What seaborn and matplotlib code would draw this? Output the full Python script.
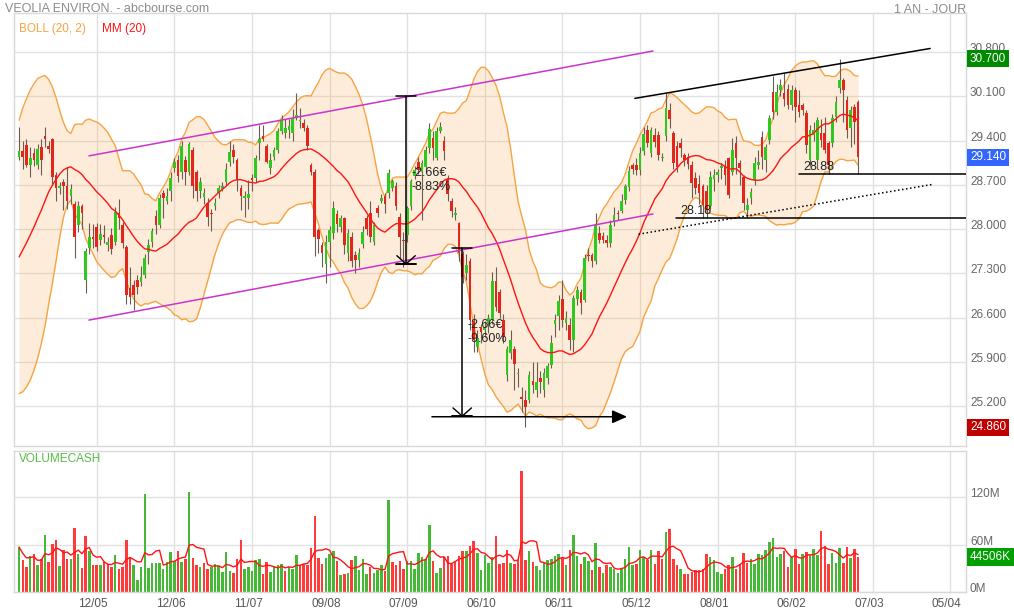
import numpy as np
import pandas as pd
import seaborn as sns
import matplotlib.pyplot as plt
from matplotlib.transforms import blended_transform_factory, offset_copy

sns.set_style("white")
plt.rcParams['font.family'] = ['Liberation Sans', 'DejaVu Sans']

# daily sessions, oldest first
opens = [
    29.15, 29.24, 29.33, 29.02, 29.20, 29.02, 29.30, 29.48, 29.32, 29.42,
    28.86, 28.65, 28.75, 28.69, 28.52, 28.40, 28.07, 28.36, 27.20, 27.70,
    27.88, 28.04, 27.83, 27.91, 27.75, 27.91, 27.80, 28.25, 28.07, 27.71,
    27.07, 27.12, 27.20, 27.16, 27.28, 27.64, 27.80, 28.21, 28.07, 28.57,
    28.45, 28.60, 28.97, 29.10, 28.90, 29.10, 28.90, 29.26, 28.90, 28.60,
    28.51, 28.41, 28.26, 28.36, 28.57, 28.64, 28.75, 29.06, 29.26, 29.09,
    28.65, 28.49, 28.50, 28.81, 28.81, 29.36, 29.48, 29.31, 28.97, 29.15,
    29.25, 29.56, 29.52, 29.57, 29.52, 29.76, 29.71, 29.68, 29.60, 29.02,
    28.90, 27.98, 27.75, 27.45, 27.80, 27.94, 28.24, 28.04, 28.17, 27.62,
    27.88, 27.59, 27.51, 27.77, 28.17, 28.26, 27.80, 28.33, 28.45, 28.52,
    28.57, 28.65, 28.68, 28.20, 27.83, 27.90, 28.36, 28.84, 29.07, 28.90,
    28.99, 29.28, 29.45, 29.13, 29.56, 29.40, 28.80, 28.45, 28.22, 28.10,
    27.60, 27.30, 27.50, 26.55, 26.14, 26.45, 26.40, 26.52, 26.57, 27.18,
    27.00, 26.56, 25.69, 26.04, 26.10, 25.70, 25.35, 25.30, 25.30, 25.60,
    25.45, 25.65, 25.45, 25.65, 25.85, 26.50, 26.62, 26.90, 26.52, 26.48,
    26.24, 26.90, 27.00, 26.88, 27.59, 27.59, 27.49, 27.94, 27.89, 27.83,
    27.78, 28.12, 28.26, 28.29, 28.46, 28.67, 29.02, 29.02, 28.94, 29.23,
    29.57, 29.20, 29.49, 29.49, 29.13, 29.47, 29.89, 29.52, 29.31, 29.37,
    29.17, 29.14, 29.02, 28.81, 28.72, 28.68, 28.60, 28.36, 28.79, 28.86,
    28.97, 29.00, 29.12, 28.90, 29.36, 29.04, 28.82, 28.30, 28.50, 28.78,
    29.01, 29.46, 29.09, 29.41, 30.17, 29.85, 30.20, 30.15, 30.22, 29.96,
    30.20, 29.96, 29.96, 29.84, 29.09, 29.49, 29.09, 29.52, 29.52, 29.36,
    29.36, 29.78, 30.23, 30.36, 30.04, 29.60, 29.94, 30.02,
]
highs = [
    29.62, 29.40, 29.42, 29.30, 29.28, 29.35, 29.42, 29.62, 29.40, 29.45,
    28.90, 28.75, 28.80, 28.98, 28.72, 28.45, 28.45, 28.40, 27.70, 28.10,
    28.08, 28.10, 28.08, 28.06, 27.88, 28.02, 28.35, 28.47, 28.12, 27.75,
    27.40, 27.20, 27.28, 27.42, 27.60, 27.85, 28.02, 28.30, 28.55, 28.62,
    28.65, 28.90, 29.12, 29.18, 29.40, 29.16, 29.38, 29.30, 28.94, 28.82,
    28.65, 28.50, 28.32, 28.50, 28.70, 28.74, 29.05, 29.40, 29.34, 29.12,
    28.70, 28.60, 28.78, 28.88, 29.18, 29.65, 29.65, 29.35, 29.20, 29.30,
    29.60, 29.80, 29.75, 29.75, 29.90, 30.16, 29.92, 29.75, 29.65, 29.05,
    28.95, 28.02, 27.80, 27.90, 28.05, 28.45, 28.30, 28.22, 28.20, 28.00,
    27.95, 27.65, 27.70, 28.05, 28.22, 28.44, 28.12, 28.38, 28.55, 28.57,
    28.95, 28.80, 28.75, 28.25, 27.95, 28.36, 28.80, 29.00, 29.15, 29.10,
    29.32, 29.68, 29.55, 29.62, 29.70, 29.48, 28.85, 28.50, 28.35, 28.12,
    27.65, 27.60, 27.55, 26.65, 26.40, 26.50, 26.55, 26.65, 27.32, 27.40,
    27.05, 26.65, 26.15, 26.40, 26.15, 25.80, 25.50, 25.45, 25.75, 25.90,
    25.90, 25.75, 25.80, 25.88, 26.32, 26.65, 26.95, 27.20, 26.70, 26.60,
    26.95, 27.10, 27.05, 27.60, 27.70, 27.62, 28.25, 28.05, 27.95, 27.90,
    28.15, 28.35, 28.30, 28.55, 28.72, 29.00, 29.05, 29.12, 29.30, 29.62,
    29.65, 29.62, 29.60, 29.55, 29.20, 30.15, 30.00, 29.55, 29.40, 29.45,
    29.20, 29.20, 29.08, 28.90, 28.85, 28.72, 28.70, 28.92, 28.95, 28.95,
    29.05, 29.10, 29.15, 29.45, 29.48, 29.10, 28.85, 28.50, 28.65, 29.15,
    29.25, 29.55, 29.35, 29.80, 30.42, 30.30, 30.38, 30.47, 30.30, 30.28,
    30.25, 30.20, 30.00, 29.88, 29.65, 29.70, 29.78, 29.75, 29.78, 29.40,
    29.82, 30.10, 30.70, 30.40, 30.10, 29.95, 29.98, 30.05,
]
lows = [
    29.10, 28.95, 28.98, 28.83, 29.00, 28.95, 28.85, 29.30, 29.20, 28.70,
    28.45, 28.55, 28.30, 28.32, 28.40, 27.55, 27.95, 28.00, 26.99, 27.60,
    27.70, 27.65, 27.75, 27.78, 27.65, 27.60, 27.75, 28.00, 27.70, 26.82,
    26.82, 26.72, 26.98, 27.10, 27.22, 27.45, 27.72, 27.92, 28.02, 28.18,
    28.40, 28.45, 28.90, 28.75, 28.80, 28.70, 28.85, 28.50, 28.45, 28.50,
    28.40, 28.05, 27.97, 28.30, 28.50, 28.60, 28.70, 29.00, 29.05, 28.60,
    28.30, 28.20, 28.32, 28.60, 28.75, 29.10, 29.40, 29.05, 28.88, 29.10,
    29.20, 29.50, 29.45, 29.45, 29.40, 29.72, 29.60, 29.55, 29.25, 28.85,
    27.57, 27.62, 27.40, 27.15, 27.40, 27.85, 27.95, 27.95, 27.60, 27.50,
    27.40, 27.30, 27.40, 27.70, 27.90, 27.80, 27.75, 28.20, 28.42, 28.25,
    28.50, 28.60, 28.30, 27.55, 27.40, 27.80, 28.30, 28.80, 28.88, 28.15,
    28.90, 29.20, 29.10, 29.10, 29.52, 29.10, 28.45, 28.20, 28.15, 27.50,
    27.15, 27.20, 26.40, 26.05, 26.05, 26.20, 26.30, 26.35, 26.50, 26.70,
    26.60, 26.20, 25.60, 25.95, 25.45, 25.50, 25.10, 24.86, 25.25, 25.40,
    25.35, 25.40, 25.35, 25.55, 25.80, 26.30, 26.40, 26.45, 26.40, 26.08,
    26.05, 26.80, 26.65, 26.85, 27.50, 27.40, 27.45, 27.78, 27.78, 27.72,
    27.72, 28.05, 28.15, 28.25, 28.40, 28.60, 28.88, 28.86, 28.85, 29.18,
    29.30, 29.15, 29.30, 29.10, 29.08, 29.40, 29.60, 28.95, 28.90, 29.15,
    29.00, 28.95, 28.50, 28.55, 28.40, 28.18, 28.18, 28.30, 28.60, 28.75,
    28.80, 28.70, 28.50, 28.85, 28.88, 28.70, 28.30, 28.18, 28.40, 28.70,
    28.95, 28.95, 28.90, 29.35, 29.75, 29.80, 30.10, 29.95, 29.90, 29.88,
    29.70, 29.78, 29.80, 29.20, 29.00, 29.40, 28.95, 29.30, 29.20, 28.88,
    29.30, 29.70, 30.15, 29.70, 29.45, 29.30, 29.35, 28.88,
]
closes = [
    29.24, 29.15, 29.02, 29.12, 29.10, 29.27, 29.10, 29.42, 29.27, 28.83,
    28.65, 28.69, 28.68, 28.45, 28.64, 27.87, 28.36, 28.26, 27.65, 27.87,
    27.84, 27.71, 27.93, 27.87, 27.79, 27.68, 28.27, 28.17, 27.78, 26.96,
    26.93, 26.96, 27.08, 27.24, 27.54, 27.75, 27.97, 28.06, 28.49, 28.49,
    28.53, 28.81, 29.07, 28.84, 29.31, 28.90, 29.34, 28.68, 28.60, 28.74,
    28.57, 28.19, 28.24, 28.41, 28.65, 28.69, 28.95, 29.22, 29.14, 28.78,
    28.52, 28.53, 28.55, 28.78, 29.12, 29.43, 29.42, 29.07, 29.10, 29.26,
    29.56, 29.72, 29.60, 29.64, 29.75, 29.80, 29.73, 29.60, 29.31, 28.90,
    27.88, 27.84, 27.62, 27.80, 27.98, 28.33, 28.08, 28.17, 27.75, 27.94,
    27.49, 27.51, 27.63, 27.95, 28.00, 27.87, 28.07, 28.26, 28.49, 28.40,
    28.89, 28.76, 28.36, 27.88, 27.82, 28.33, 28.77, 28.94, 28.94, 29.05,
    29.26, 29.58, 29.28, 29.55, 29.61, 29.23, 28.55, 28.28, 28.25, 27.62,
    27.25, 27.43, 26.56, 26.24, 26.28, 26.37, 26.45, 26.59, 27.18, 26.77,
    26.67, 26.29, 26.10, 26.24, 25.86, 25.72, 25.31, 25.18, 25.69, 25.53,
    25.58, 25.58, 25.72, 25.83, 26.20, 26.56, 26.86, 26.56, 26.59, 26.24,
    26.91, 27.04, 26.83, 27.54, 27.57, 27.49, 28.07, 27.83, 27.83, 27.78,
    28.07, 28.22, 28.24, 28.44, 28.68, 28.92, 28.95, 28.94, 29.20, 29.51,
    29.36, 29.57, 29.38, 29.17, 29.15, 29.92, 29.74, 29.05, 28.98, 29.28,
    29.09, 29.03, 28.73, 28.65, 28.57, 28.38, 28.30, 28.83, 28.86, 28.90,
    29.00, 28.85, 28.54, 29.25, 29.13, 28.97, 28.41, 28.38, 28.59, 29.05,
    29.06, 29.14, 29.30, 29.76, 29.85, 30.17, 30.28, 30.06, 29.96, 30.20,
    29.93, 29.85, 29.89, 29.33, 29.57, 29.57, 29.73, 29.41, 29.25, 29.02,
    29.76, 30.01, 30.36, 30.20, 29.57, 29.89, 29.70, 29.14,
]
# traded amount, millions of euros
volumes = [
    57.0, 41.0, 31.7, 45.2, 48.6, 34.6, 42.3, 72.7, 38.0, 61.3,
    65.5, 32.5, 52.8, 41.4, 42.3, 81.5, 47.7, 30.4, 70.6, 52.0,
    33.8, 33.8, 34.6, 38.0, 35.9, 31.7, 47.3, 29.6, 31.7, 66.3,
    44.4, 34.6, 14.8, 31.7, 123.8, 30.8, 36.8, 36.8, 36.8, 29.6,
    38.0, 50.7, 39.3, 51.5, 38.0, 41.8, 126.8, 43.5, 33.8, 31.7,
    37.2, 29.6, 31.7, 35.1, 32.5, 25.4, 50.7, 26.6, 24.5, 41.8,
    65.5, 28.7, 31.7, 26.6, 40.1, 41.4, 23.2, 37.6, 25.4, 32.5,
    33.8, 35.1, 26.6, 31.7, 28.7, 47.3, 34.6, 35.9, 34.6, 56.2,
    95.9, 43.1, 35.9, 42.7, 47.7, 51.5, 39.3, 22.0, 23.2, 24.1,
    40.1, 45.2, 28.3, 42.3, 23.2, 31.7, 24.1, 27.5, 33.8, 26.6,
    117.0, 37.6, 33.8, 38.9, 28.7, 38.9, 38.9, 28.7, 49.9, 44.4,
    42.3, 85.3, 39.3, 24.5, 30.0, 44.4, 45.2, 35.9, 38.0, 45.2,
    51.5, 51.5, 57.9, 64.2, 49.9, 27.5, 46.5, 36.8, 44.4, 70.6,
    35.1, 36.8, 53.7, 37.2, 35.1, 40.1, 154.2, 41.0, 52.0, 38.0,
    32.5, 28.3, 36.8, 40.1, 41.4, 45.2, 48.6, 43.5, 34.6, 53.7,
    71.8, 45.2, 35.9, 44.4, 39.3, 27.5, 62.5, 31.7, 24.5, 34.6,
    31.7, 29.6, 24.1, 28.7, 41.4, 56.6, 33.8, 35.1, 52.8, 44.4,
    41.0, 53.7, 35.9, 51.5, 41.4, 76.1, 80.3, 41.4, 34.6, 29.6,
    23.2, 23.2, 25.4, 28.3, 28.3, 29.6, 47.7, 44.4, 40.1, 25.4,
    22.4, 29.6, 33.8, 44.4, 29.6, 35.1, 49.9, 37.2, 42.3, 35.1,
    48.6, 46.5, 53.7, 63.4, 68.9, 44.4, 48.6, 51.5, 31.7, 44.4,
    54.9, 35.1, 48.6, 50.7, 47.3, 54.9, 46.5, 76.9, 57.9, 35.1,
    49.9, 36.8, 56.2, 37.2, 57.0, 43.5, 54.9, 44.506,
]
# closes of the sessions just before the first candle, they seed the 20 day indicators
prior_closes = [26.9, 26.8, 26.7, 26.6, 26.5, 26.5, 26.45, 26.41, 26.7, 26.8,
                27.0, 27.4, 27.8, 28.3, 28.7, 29.0, 29.2, 29.2, 29.0]

date_labels = ['12/05', '12/06', '11/07', '09/08', '07/09', '06/10',
               '06/11', '05/12', '08/01', '06/02', '07/03', '05/04']

# drawings on the chart: (session index, price) end points
channel_high = [(18.9, 29.16), (171.5, 30.82)]
channel_low = [(18.9, 26.56), (171.5, 28.24)]
top_trend = [(166.6, 30.07), (246.5, 30.86)]
dotted_trend = [(167.6, 27.92), (247.3, 28.71)]
supports = [(211.0, 28.88), (177.8, 28.18)]
drops = [(104.7, 30.11, 27.45), (119.9, 27.70, 25.04)]
drop_base = [(111.7, 25.03), (164.5, 25.03)]

GREEN = '#2fc81e'
RED = '#e3261b'
ORANGE = '#f6a443'
GRID = '#e1e1e1'

n = len(closes)
df = pd.DataFrame({'i': np.arange(n), 'open': opens, 'high': highs, 'low': lows,
                   'close': closes, 'vol': volumes})
full = pd.Series(prior_closes + closes)
k = len(prior_closes)
df['mm'] = full.rolling(20).mean().iloc[k:].to_numpy()
sd = full.rolling(20).std(ddof=0).iloc[k:].to_numpy()
df['up'] = df['mm'] + 2 * sd
df['dn'] = df['mm'] - 2 * sd
df['vol_mm'] = df['vol'].rolling(5, min_periods=1).mean()
prev = np.r_[prior_closes[-1], closes[:-1]]
df['vol_col'] = np.where(df['close'] >= prev, '#45b935', '#ff3a3a')
df['col'] = np.where(df['close'] >= df['open'], GREEN, RED)

fig = plt.figure(figsize=(10.14, 6.14), dpi=100)
ax = fig.add_axes([14 / 1014, 1 - 446 / 614, 952 / 1014, 432.7 / 614])
axv = fig.add_axes([14 / 1014, 1 - 592 / 614, 952 / 1014, 141 / 614])

ticks = np.arange(21, 253, 21)
levels = np.round(np.arange(25.2, 30.81, 0.7), 1)
for a in (ax, axv):
    a.set_xlim(-1.38, 256.2)
    a.set_xticks(ticks)
    a.grid(True, color=GRID, lw=1)
    a.set_axisbelow(True)
    a.tick_params(length=0, labelbottom=False, labelleft=False)
    for s in a.spines.values():
        s.set_color('#d8d8d8')
        s.set_linewidth(1)
ax.set_ylim(24.567, 31.417)
ax.set_yticks(levels)
axv.set_ylim(0, 179)
axv.set_yticks([0, 60, 120])

# bollinger + mm
ax.fill_between(df['i'], df['dn'], df['up'], color=ORANGE, alpha=0.2, lw=0, zorder=1)
sns.lineplot(data=df, x='i', y='up', ax=ax, color=ORANGE, lw=1, zorder=2)
sns.lineplot(data=df, x='i', y='dn', ax=ax, color=ORANGE, lw=1, zorder=2)

# candles
ax.vlines(df['i'], df['low'], df['high'], color='#6a5c50', lw=0.8, zorder=3)
body = (df['close'] - df['open']).abs().clip(lower=0.015)
ax.bar(df['i'], body, bottom=df[['open', 'close']].min(axis=1), width=0.72,
       color=df['col'], lw=0, zorder=3.5)
sns.lineplot(data=df, x='i', y='mm', ax=ax, color='#ff1414', lw=1, zorder=4)

# drawings
for pts, col, ls in [(channel_high, '#cc33cc', '-'), (channel_low, '#cc33cc', '-'),
                     (top_trend, 'black', '-'), (dotted_trend, 'black', ':')]:
    (x0, y0), (x1, y1) = pts
    ax.plot([x0, x1], [y0, y1], color=col, ls=ls, lw=1.1, zorder=5)

for x0, lvl in supports:
    ax.plot([x0, 256.2], [lvl, lvl], color='black', lw=1.1, zorder=5)
    ax.text(x0, lvl, f'{lvl:.2f}', fontsize=9, color='#222222', ha='left', va='bottom',
            transform=offset_copy(ax.transData, fig, x=4, y=1, units='dots'), zorder=6)

for xi, top, bot in drops:
    ax.plot([xi, xi], [top, bot], color='black', lw=1.1, zorder=5)
    ax.plot([xi - 2.7, xi + 2.7], [top, top], color='black', lw=1.1, zorder=5)
    ax.plot([xi - 2.7, xi + 2.7], [bot, bot], color='black', lw=1.4, zorder=5)
    ax.plot([xi - 2.5, xi, xi + 2.5], [bot + 0.13, bot, bot + 0.13], color='black', lw=1, zorder=5)
    diff = top - bot
    ax.text(xi, (top + bot) / 2, f'-{diff:.2f}€\n-{diff / top * 100:.2f}%', fontsize=9,
            color='#222222', ha='left', va='center', linespacing=1.15,
            transform=offset_copy(ax.transData, fig, x=5, y=0, units='dots'), zorder=6)

(bx0, by0), (bx1, by1) = drop_base
ax.annotate('', xy=(bx1, by1), xytext=(bx0, by0), zorder=5,
            arrowprops=dict(arrowstyle='-|>,head_length=0.9,head_width=0.4',
                            color='black', lw=1.1, mutation_scale=10, shrinkA=0, shrinkB=0))

# right price scale
right = blended_transform_factory(ax.transAxes, ax.transData)
for v in levels:
    ax.text(1, v, f'{v:.3f}', fontsize=8.5, color='#666666', ha='left', va='center',
            transform=offset_copy(right, fig, x=4, y=3, units='dots'), clip_on=False)
for v, col in [(max(highs), '#008a00'), (closes[-1], '#3366ff'), (min(lows), '#c00000')]:
    ax.text(1, v, f'{v:.3f}', fontsize=8.5, color='white', ha='left', va='center',
            transform=offset_copy(right, fig, x=4, y=0, units='dots'), clip_on=False, zorder=10,
            bbox=dict(boxstyle='square,pad=0.22', fc=col, ec='none'))

# volume panel
axv.bar(df['i'], df['vol'], width=0.68, color=df['vol_col'], lw=0, zorder=2)
sns.lineplot(data=df, x='i', y='vol_mm', ax=axv, color='#ff1414', lw=1, zorder=3)
rightv = blended_transform_factory(axv.transAxes, axv.transData)
for v in [0, 60, 120]:
    axv.text(1, v, f'{v}M', fontsize=8.5, color='#666666', ha='left', va='center',
             transform=offset_copy(rightv, fig, x=4, y=3, units='dots'), clip_on=False)
axv.text(1, volumes[-1], f'{round(volumes[-1] * 1000)}K', fontsize=8.5, color='white',
         ha='left', va='center', transform=offset_copy(rightv, fig, x=4, y=0, units='dots'),
         clip_on=False, zorder=10, bbox=dict(boxstyle='square,pad=0.22', fc='#00a000', ec='none'))

bottom = blended_transform_factory(axv.transData, axv.transAxes)
for t, lab in zip(ticks, date_labels):
    axv.text(t, 0, lab, fontsize=8.5, color='#555555', ha='center', va='center',
             transform=offset_copy(bottom, fig, x=-3.7, y=-12, units='dots'), clip_on=False)

for a in (ax, axv):
    a.set_xlabel('')
    a.set_ylabel('')

fig.text(5 / 1014, 1 - 9 / 614, 'VEOLIA ENVIRON. - abcbourse.com', fontsize=9,
         color='#8c8c8c', va='center', ha='left')
fig.text(966 / 1014, 1 - 10 / 614, '1 AN - JOUR', fontsize=9, color='#8c8c8c',
         va='center', ha='right')
fig.text(19 / 1014, 1 - 29 / 614, 'BOLL (20, 2)', fontsize=8.5, color=ORANGE, va='center')
fig.text(102 / 1014, 1 - 29 / 614, 'MM (20)', fontsize=8.5, color='#ff1414', va='center')
fig.text(19 / 1014, 1 - 459 / 614, 'VOLUMECASH', fontsize=8.5, color='#55bb44', va='center')

fig.savefig('out.png', dpi=100)
